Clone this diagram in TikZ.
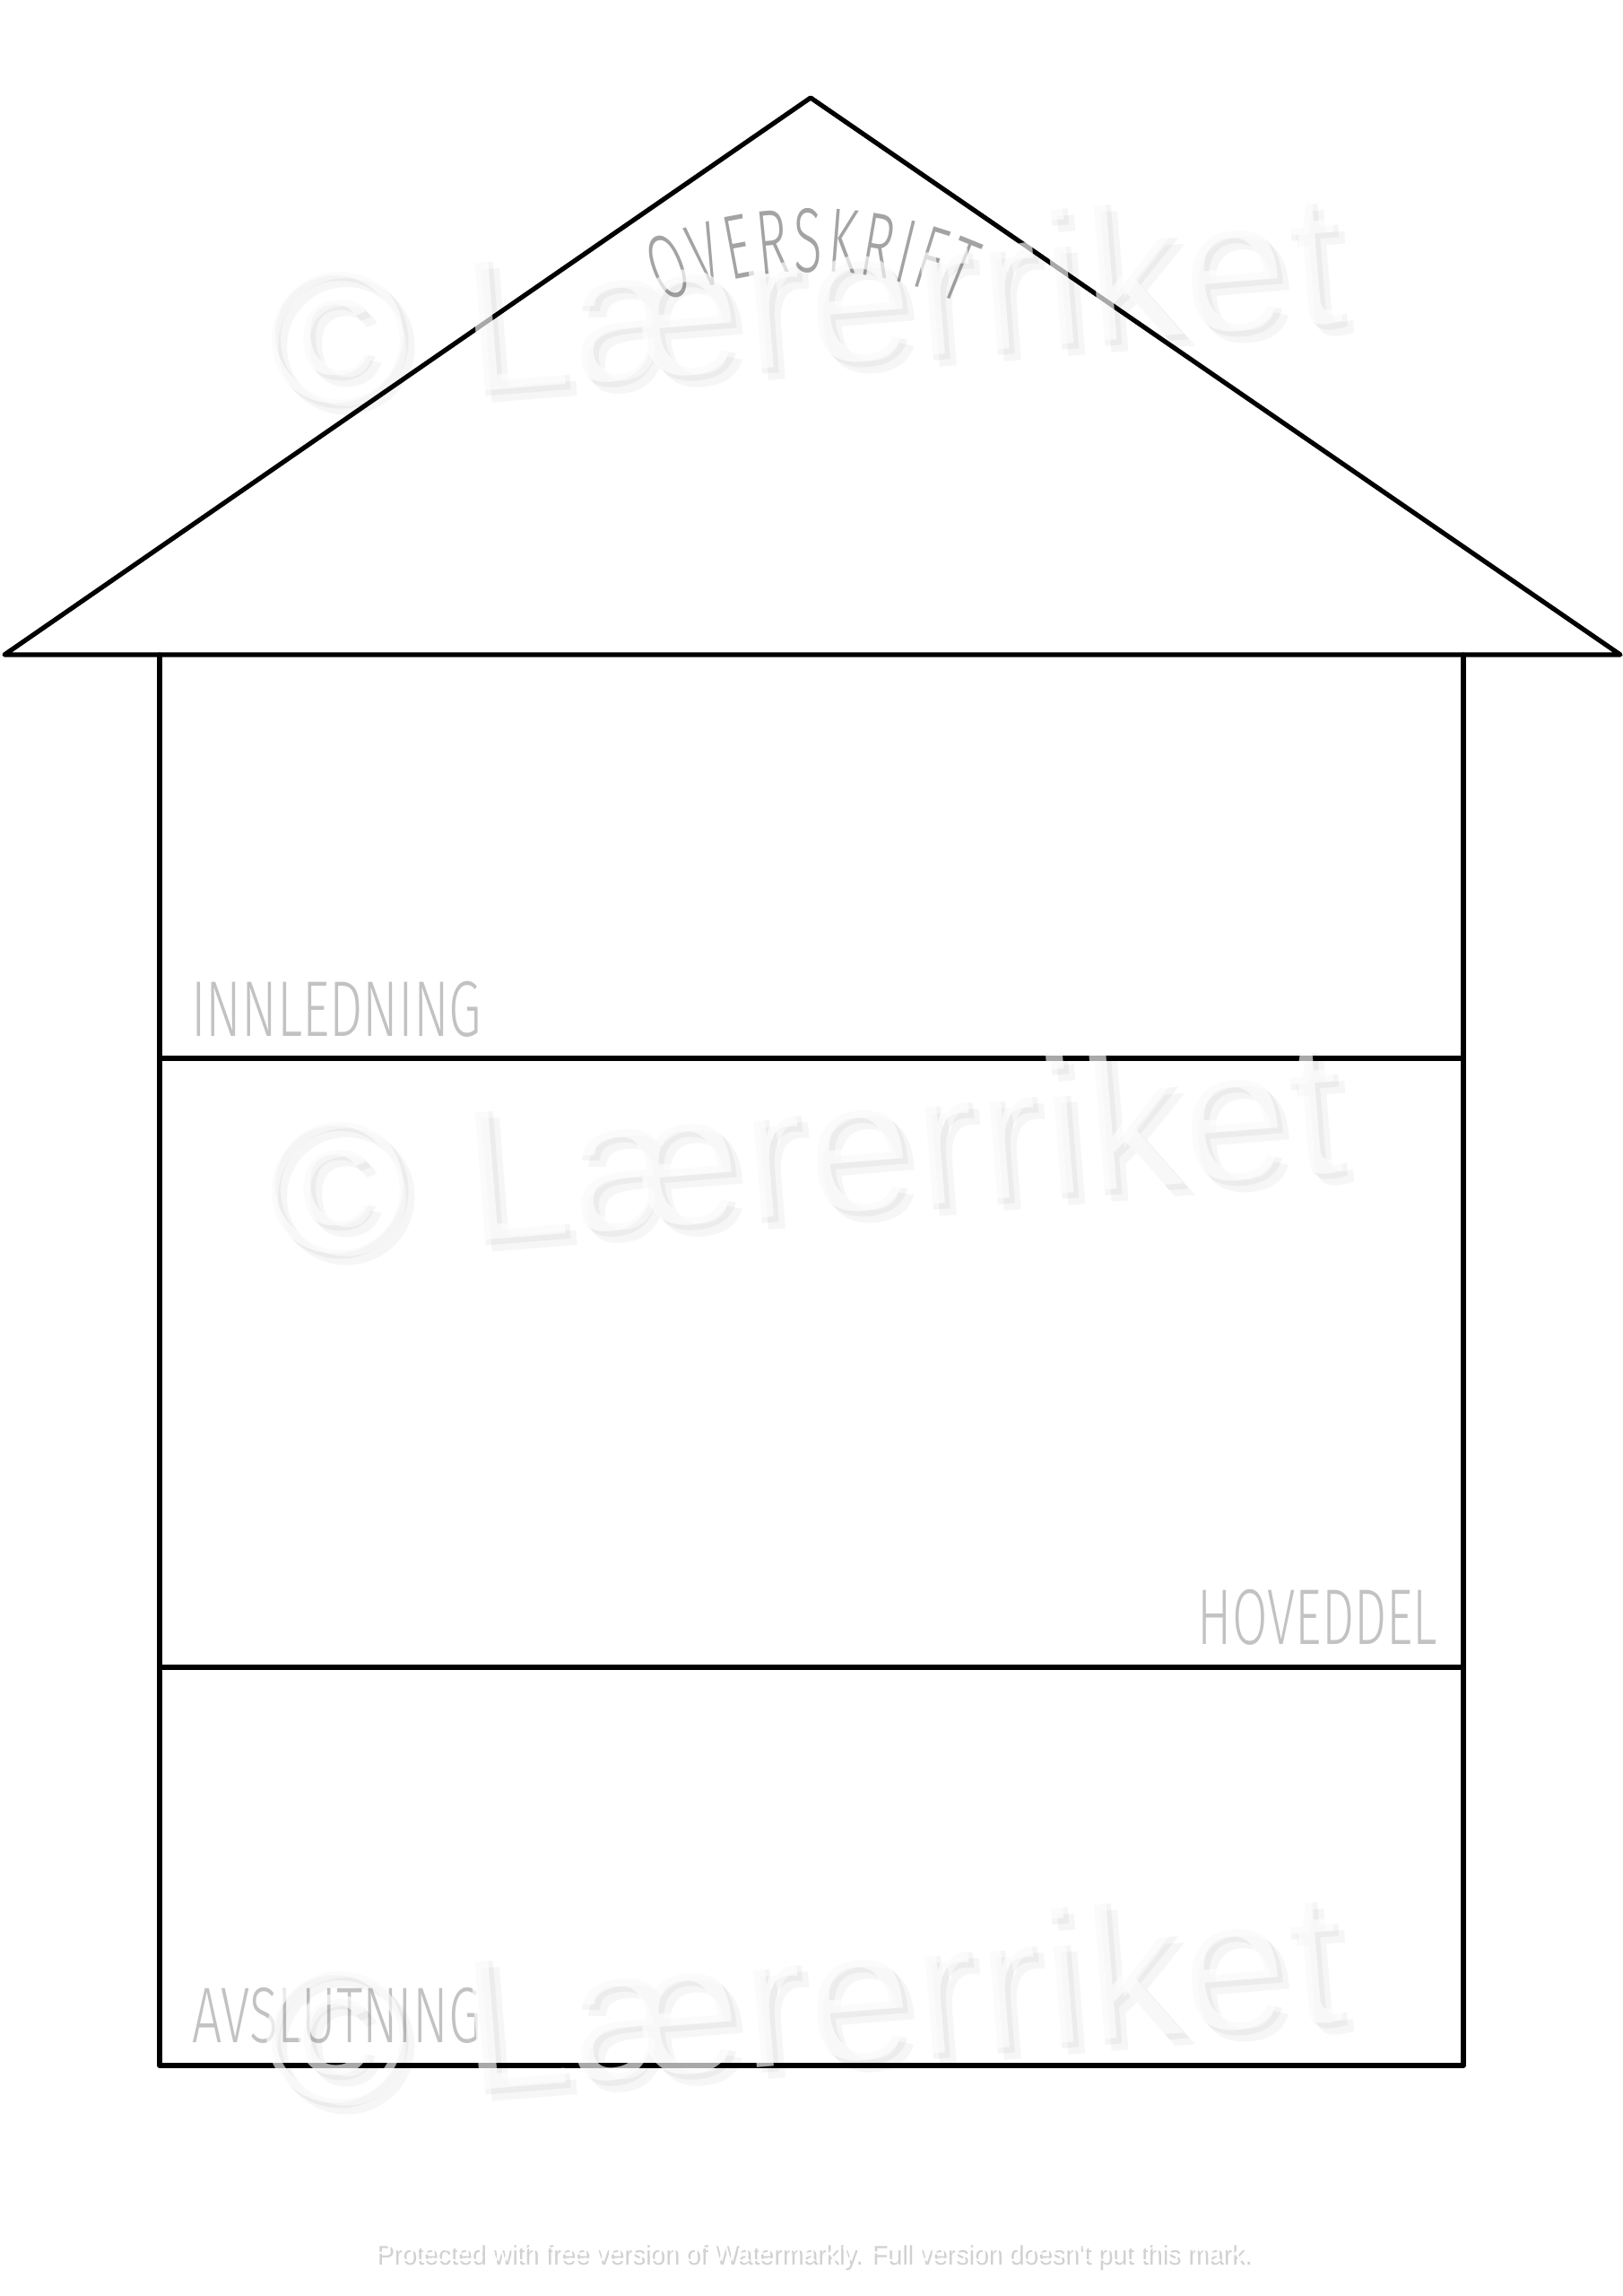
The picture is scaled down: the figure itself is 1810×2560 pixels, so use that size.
\documentclass[tikz,border=0pt]{standalone}
\usepackage{fontspec}
\usetikzlibrary{decorations.text}
\newfontfamily\lblfont{Fira Sans Light}[FakeStretch=0.67]
\newfontfamily\ttlfont{Fira Sans Light}[FakeStretch=0.58]
\newfontfamily\wmfont{Liberation Sans}
\begin{document}
\begin{tikzpicture}[x=1pt,y=-1pt,
  wall/.style={line width=5.2pt, line cap=round, line join=round, draw=black},
  lbl/.style={text=black!24, font=\lblfont\fontsize{88}{88}\selectfont, inner sep=0pt},
  wm/.style={font=\wmfont\fontsize{216}{216}\selectfont, inner sep=0pt, rotate=4.6, anchor=base west},
  wmnote/.style={font=\wmfont\fontsize{30}{30}\selectfont, inner sep=0pt, xscale=0.95}
]
\path[use as bounding box, fill=white] (0,0) rectangle (1810,2560);
% roof
\coordinate (apex) at (904,109);
\coordinate (eaveL) at (5,730);
\coordinate (eaveR) at (1807,730);
% walls
\coordinate (tl) at (178,730);
\coordinate (tr) at (1632,730);
\coordinate (bl) at (178,2303);
\coordinate (br) at (1632,2303);
\coordinate (d1l) at (178,1180);
\coordinate (d1r) at (1632,1180);
\coordinate (d2l) at (178,1859);
\coordinate (d2r) at (1632,1859);
\draw[wall] (eaveL) -- (apex) -- (eaveR) -- cycle;
\draw[wall] (tl) -- (bl) -- (br) -- (tr);
\draw[wall] (d1l) -- (d1r);
\draw[wall] (d2l) -- (d2r);
% labels
\node[lbl, anchor=base west] (innl) at (213,1155) {INNLEDNING};
\node[lbl, anchor=base east, xscale=0.97] (hov) at (1603,1833) {HOVEDDEL};
\node[lbl, anchor=base west] (avsl) at (214,2277) {AVSLUTNING};
% curved title
\path[decorate, decoration={text along path, text align={fit to path},
  text={|\ttlfont\fontsize{102}{102}\selectfont\color{black!36}|OVERSKRIFT}}]
  (738.2,338.4) arc[start angle=-114, end angle=-66, radius=410];
% watermarks
\foreach \dy/\n in {0/a,947/b,1894/c} {
  \node[wm, text=black, text opacity=0.035] (wms1\n) at (313,{468+\dy}) {© Lærerriket};
  \node[wm, text=black, text opacity=0.04] (wms2\n) at (306,{461+\dy}) {© Lærerriket};
  \node[wm, text=white, text opacity=0.66] (wm\n) at (300,{455+\dy}) {© Lærerriket};
}
\node[wmnote, text=black, text opacity=0.18] (notes) at (909,2518) {Protected with free version of Watermarkly. Full version doesn't put this mark.};
\node[wmnote, text=white] (note) at (906,2514) {Protected with free version of Watermarkly. Full version doesn't put this mark.};
\end{tikzpicture}
\end{document}
